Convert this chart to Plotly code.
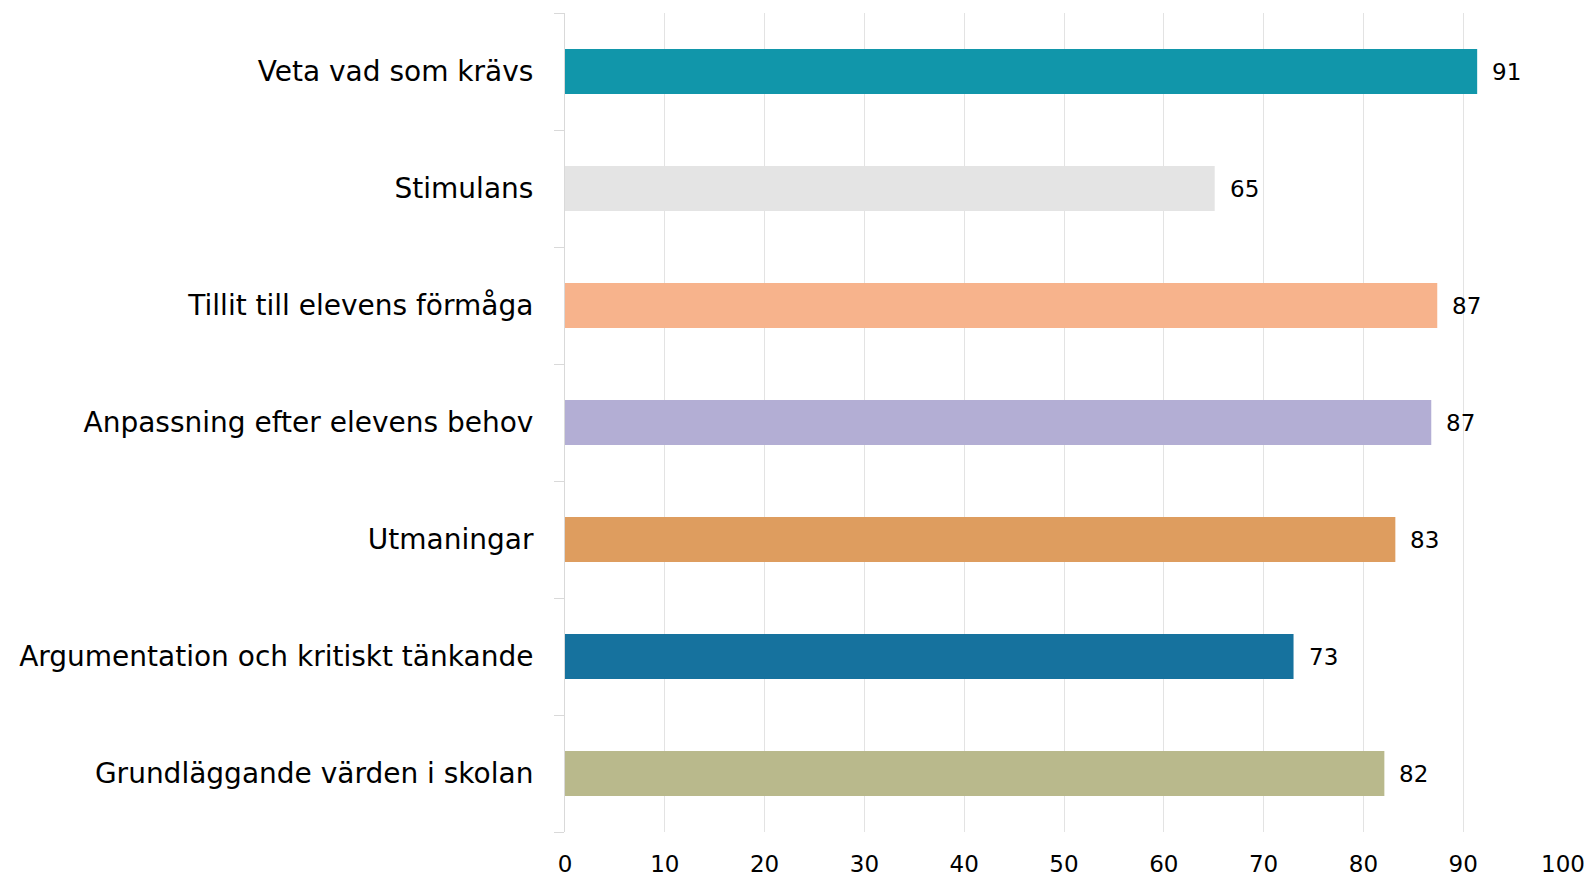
import plotly.graph_objects as go

categories = [
    "Veta vad som krävs",
    "Stimulans",
    "Tillit till elevens förmåga",
    "Anpassning efter elevens behov",
    "Utmaningar",
    "Argumentation och kritiskt tänkande",
    "Grundläggande värden i skolan",
]
values = [91.4, 65.1, 87.4, 86.8, 83.2, 73.0, 82.1]
labels = ["91", "65", "87", "87", "83", "73", "82"]
colors = ["#1196AA", "#E4E4E4", "#F7B38C", "#B3AED4", "#DE9D5F", "#16729E", "#B9B98C"]
x_ticks = [0, 10, 20, 30, 40, 50, 60, 70, 80, 90, 100]

FONT = "DejaVu Sans, Noto Sans, sans-serif"

fig = go.Figure(
    go.Bar(
        y=categories,
        x=values,
        orientation="h",
        marker=dict(color=colors, line=dict(width=0)),
        hoverinfo="skip",
    )
)

for cat, val, lab in zip(categories, values, labels):
    fig.add_annotation(
        x=val, y=cat, text=lab, showarrow=False,
        xanchor="left", yanchor="middle", xshift=13,
        font=dict(size=23, color="#000000", family=FONT),
    )

fig.update_layout(
    width=1589,
    height=877,
    paper_bgcolor="white",
    plot_bgcolor="white",
    margin=dict(l=565, r=26, t=13, b=45, pad=0, autoexpand=False),
    font=dict(family=FONT, color="#000000"),
    bargap=0.615,
    showlegend=False,
)

fig.update_xaxes(
    range=[0, 100],
    tickvals=x_ticks,
    ticktext=[str(v) for v in x_ticks],
    showgrid=True,
    gridcolor="#E3E3E3",
    gridwidth=1,
    zeroline=False,
    showline=False,
    ticks="",
    tickfont=dict(size=23),
    ticklabelstandoff=16,
    automargin=False,
)

fig.update_yaxes(
    categoryorder="array",
    categoryarray=categories[::-1],
    showline=True,
    linecolor="#D9D9D9",
    linewidth=1,
    ticks="outside",
    tickson="boundaries",
    ticklen=10,
    tickcolor="#D9D9D9",
    tickfont=dict(size=28),
    showgrid=False,
    ticklabelstandoff=25,
    automargin=False,
)

fig.write_html(
    "out.html",
    config={"displayModeBar": False},
    post_script="document.body.style.margin='0';document.body.style.overflow='hidden';",
)
